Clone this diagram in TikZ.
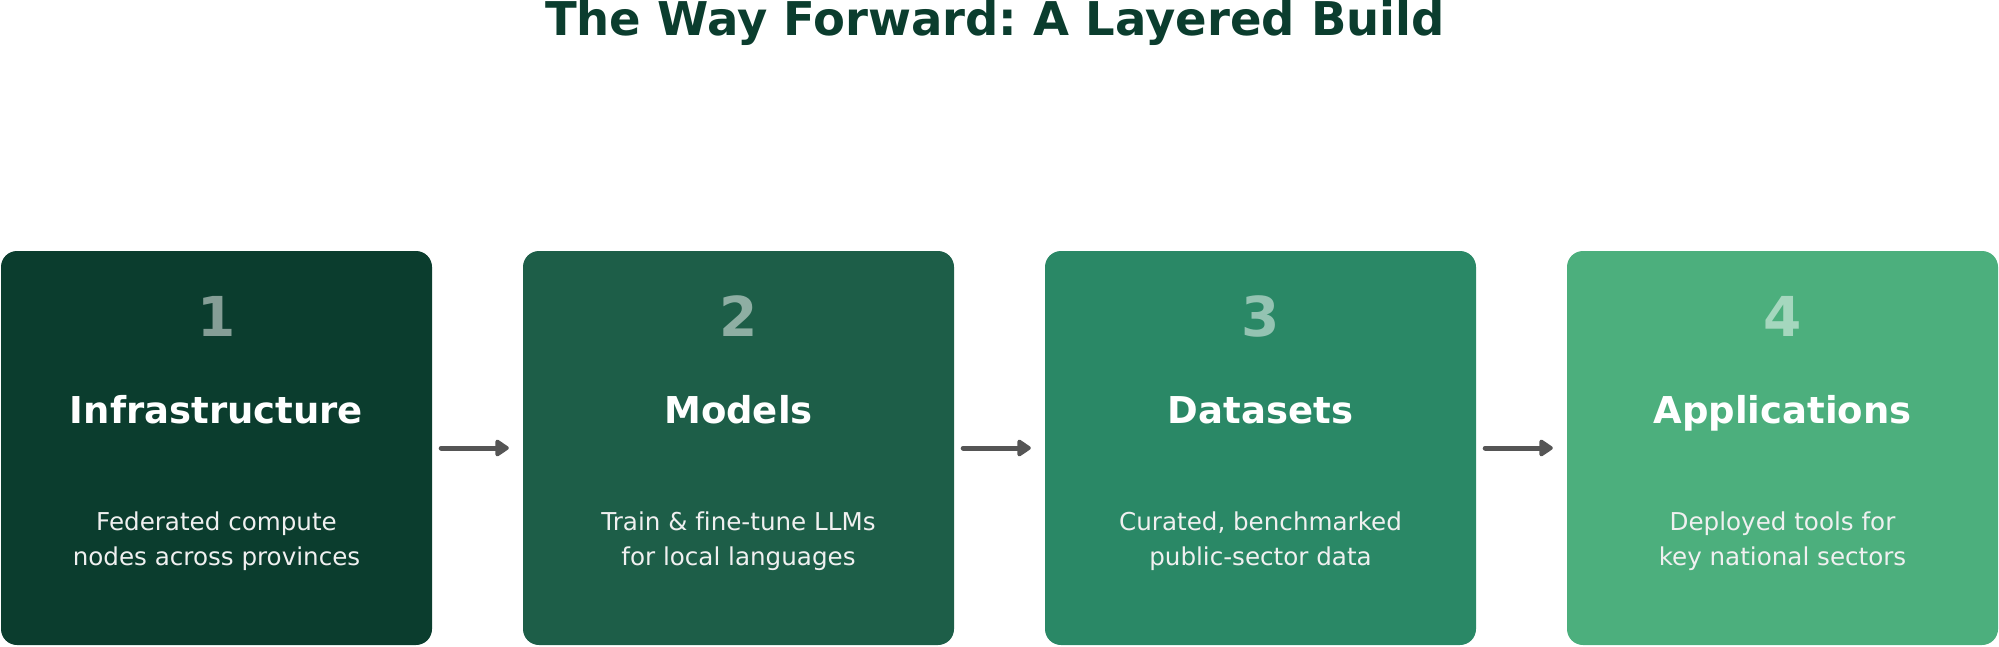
\documentclass[tikz,border=0pt]{standalone}
\usepackage{fontspec}
\setmainfont[Ligatures=CommonOff]{DejaVu Sans}
\frenchspacing
\usetikzlibrary{arrows.meta}
\definecolor{cA}{HTML}{0B3D2E}
\definecolor{cB}{HTML}{1D5E48}
\definecolor{cC}{HTML}{2A8866}
\definecolor{cD}{HTML}{4CAF7D}
\definecolor{titlecol}{HTML}{0B3D2E}
\definecolor{arrcol}{HTML}{555555}
\begin{document}
\begin{tikzpicture}[x=1pt,y=-1pt,
  stagebox/.style={rounded corners=16pt, minimum width=431pt, minimum height=394pt, inner sep=0pt, draw=none},
  numtxt/.style={anchor=base, text=white, text opacity=0.5, font=\fontsize{55}{60}\selectfont\bfseries},
  headtxt/.style={anchor=base, text=white, font=\fontsize{37}{42}\selectfont\bfseries},
  desctxt/.style={anchor=base, text=white!94!black, font=\fontsize{24.6}{28}\selectfont},
  arr/.style={draw=arrcol, line width=5pt, line cap=round, line join=round, -{Triangle[round,length=15pt,width=19pt]}, shorten <=9pt, shorten >=14pt}]
\useasboundingbox (0,0) rectangle (1999,646);
\node[font=\fontsize{46.5}{50}\selectfont\bfseries, text=titlecol, anchor=base] (title) at (995,35) {The Way Forward: A Layered Build};
\node[stagebox, fill=cA] (b1) at (216.5,448) {};
\node[stagebox, fill=cB] (b2) at (738.5,448) {};
\node[stagebox, fill=cC] (b3) at (1260.5,448) {};
\node[stagebox, fill=cD] (b4) at (1782.5,448) {};
\foreach \n/\x/\h/\da/\db in {1/216.5/Infrastructure/Federated compute/nodes across provinces,
  2/738.5/Models/Train \& fine-tune LLMs/for local languages,
  3/1260.5/Datasets/{Curated, benchmarked}/public-sector data,
  4/1782.5/Applications/Deployed tools for/key national sectors}{
  \node[numtxt] (n\n) at (\x,336) {\n};
  \node[headtxt] (h\n) at (\x,423) {\h};
  \node[desctxt] (d\n) at (\x,530) {\da};
  \node[desctxt] (e\n) at (\x,565) {\db};
}
\draw[arr] (b1) -- (b2);
\draw[arr] (b2) -- (b3);
\draw[arr] (b3) -- (b4);
\end{tikzpicture}
\end{document}
